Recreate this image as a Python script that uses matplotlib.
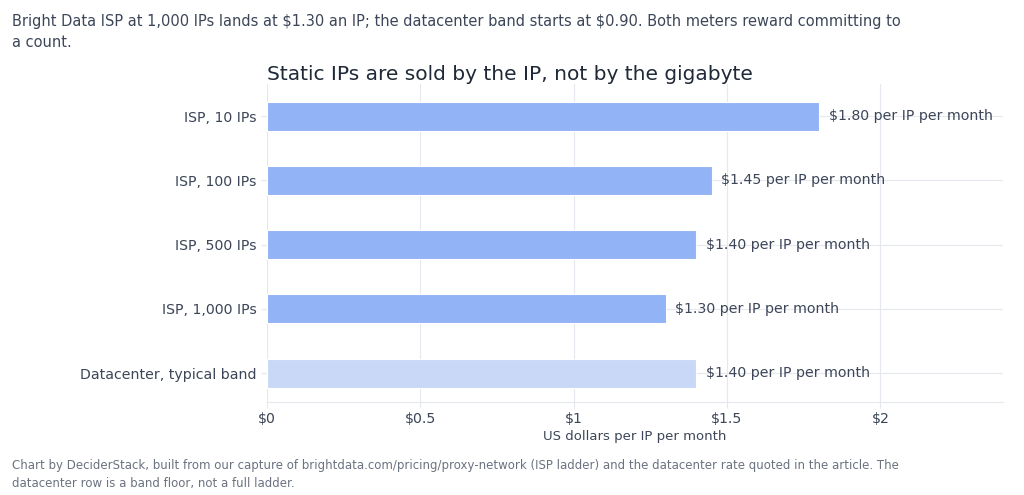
import matplotlib.pyplot as plt

categories = ["ISP, 10 IPs", "ISP, 100 IPs", "ISP, 500 IPs", "ISP, 1,000 IPs", "Datacenter, typical band"]
prices = [1.80, 1.45, 1.40, 1.30, 1.40]
bar_colors = ["#93b3f7", "#93b3f7", "#93b3f7", "#93b3f7", "#c9d8f6"]
x_ticks = [0, 0.5, 1, 1.5, 2]
x_tick_labels = ["$0", "$0.5", "$1", "$1.5", "$2"]

TEXT = "#3c4658"
GRID = "#e6e8ef"

plt.rcParams["font.family"] = ["DejaVu Sans"]
plt.rcParams["text.parse_math"] = False

fig = plt.figure(figsize=(10.24, 4.95), dpi=100)
fig.patch.set_facecolor("white")
ax = fig.add_axes([0.2607, 0.1879, 0.7188, 0.6424])

ypos = list(range(len(categories)))
ax.barh(ypos, prices, height=0.45, color=bar_colors, edgecolor="white", linewidth=0.8, zorder=3)

for y, v in zip(ypos, prices):
    ax.annotate(f"${v:.2f} per IP per month", xy=(v, y), xytext=(7, 0),
                textcoords="offset points", va="center", ha="left",
                fontsize=10.2, color=TEXT, zorder=4)

ax.set_ylim(len(categories) - 0.55, -0.5)
ax.set_xlim(0, 2.4)
ax.set_yticks(ypos)
ax.set_yticklabels(categories)
ax.set_xticks(x_ticks)
ax.set_xticklabels(x_tick_labels)
ax.tick_params(axis="both", colors=GRID, labelcolor=TEXT, labelsize=10.2, length=4, width=0.8)
ax.tick_params(axis="x", pad=3)

ax.grid(True, color=GRID, linewidth=0.8, zorder=0)
for side in ["top", "right", "left"]:
    ax.spines[side].set_visible(False)
ax.spines["bottom"].set_color(GRID)
ax.spines["bottom"].set_linewidth(0.8)

ax.set_xlabel("US dollars per IP per month", fontsize=9.5, color=TEXT)
ax.xaxis.set_label_coords(0.5, -0.089)

fig.text(0.2607, 0.838, "Static IPs are sold by the IP, not by the gigabyte",
         fontsize=14.5, color="#1f2937", ha="left", va="baseline")

fig.text(0.012, 0.972, "Bright Data ISP at 1,000 IPs lands at $1.30 an IP; the datacenter band starts at $0.90. Both meters reward committing to\na count.",
         fontsize=10.5, color=TEXT, ha="left", va="top", linespacing=1.55)

fig.text(0.012, 0.072, "Chart by DeciderStack, built from our capture of brightdata.com/pricing/proxy-network (ISP ladder) and the datacenter rate quoted in the article. The\ndatacenter row is a band floor, not a full ladder.",
         fontsize=8.5, color="#6b7280", ha="left", va="top", linespacing=1.5)

fig.savefig("out.png", dpi=100, facecolor="white")
